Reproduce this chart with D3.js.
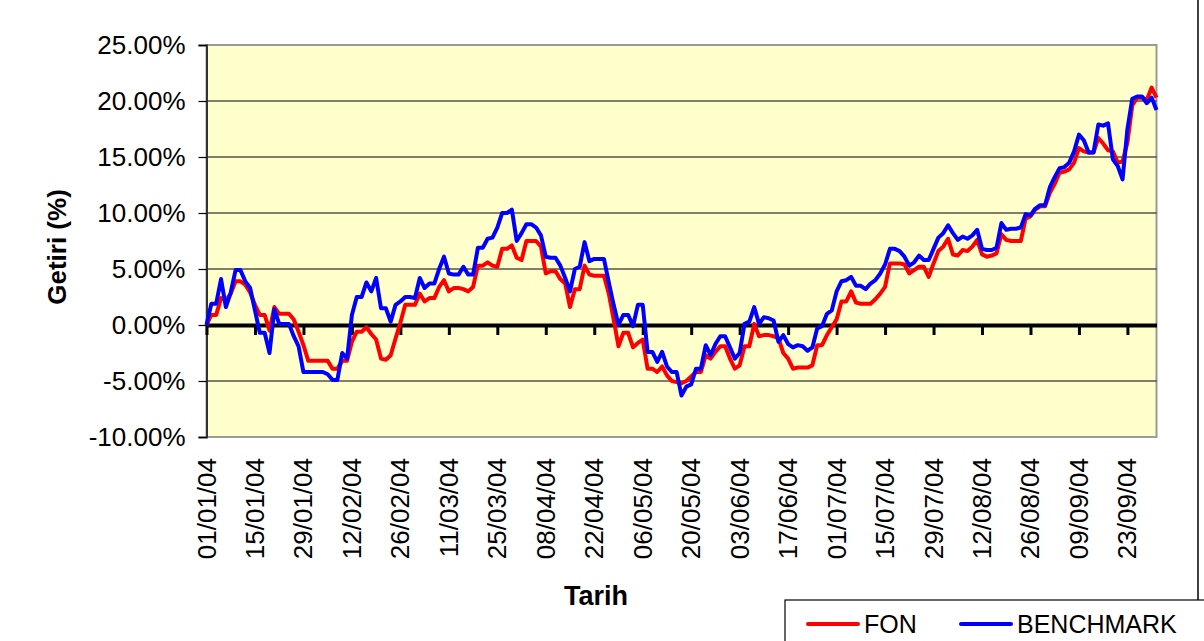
<!DOCTYPE html>
<html>
<head>
<meta charset="utf-8">
<script src="https://d3js.org/d3.v7.min.js"></script>
<style>
  body { margin: 0; background: #fff; }
  svg { font-family: Arial, "Liberation Sans", sans-serif; }
</style>
</head>
<body>
<div id="chart"></div>
<script>
// tick labels, one every 10 business days
var tickLabels = ['01/01/04','15/01/04','29/01/04','12/02/04','26/02/04','11/03/04','25/03/04',
    '08/04/04','22/04/04','06/05/04','20/05/04','03/06/04','17/06/04','01/07/04','15/07/04',
    '29/07/04','12/08/04','26/08/04','09/09/04','23/09/04'];

// FON returns (%)
var fon = [0,0.9,0.9,2.4,2.2,2.8,3.9,3.9,3.6,2.9,
    1.8,0.9,0.9,-0.5,1.6,1.0,1.0,1.0,0.5,-0.6,
    -1.8,-3.2,-3.2,-3.2,-3.2,-3.2,-3.9,-3.9,-3.2,-3.2,
    -1.5,-0.6,-0.6,-0.2,-0.8,-1.3,-3.0,-3.1,-2.7,-1.2,
    0.2,1.8,1.8,1.8,2.8,2.1,2.4,2.4,3.4,4.0,
    3.0,3.3,3.3,3.2,3.0,3.4,5.3,5.3,5.6,5.3,
    5.2,6.8,6.8,7.1,6.0,5.8,7.5,7.5,7.5,7.0,
    4.6,4.8,4.8,4.1,3.7,1.6,3.2,3.2,5.3,4.5,
    4.4,4.4,4.4,2.8,0.5,-1.9,-0.7,-0.7,-2.0,-1.6,
    -1.3,-3.9,-3.9,-4.2,-3.7,-4.5,-5.0,-5.1,-5.2,-5.0,
    -4.6,-4.2,-4.2,-2.7,-3.0,-2.4,-1.9,-1.9,-3.0,-3.9,
    -3.6,-1.9,-1.9,0.1,-1.0,-0.9,-0.9,-1.0,-1.2,-2.5,
    -3.0,-3.9,-3.8,-3.8,-3.8,-3.6,-1.8,-1.8,-0.9,-0.2,
    0.5,2.1,2.1,3.0,2.0,1.9,1.9,1.9,2.3,2.8,
    3.4,5.5,5.5,5.5,5.4,4.6,4.9,5.2,5.2,4.3,
    5.5,6.6,7.0,7.7,6.3,6.2,6.7,6.6,7.0,7.6,
    6.3,6.1,6.2,6.4,8.1,7.6,7.5,7.5,7.5,9.5,
    9.7,10.3,10.6,10.6,11.8,12.6,13.6,13.7,13.9,14.5,
    15.8,15.5,15.4,15.4,16.7,16.2,15.6,15.5,14.5,14.6,
    16.3,19.6,20.3,20.3,20.1,21.2,20.3];

// BENCHMARK returns (%)
var benchmark = [0,1.9,1.9,4.1,1.6,2.9,4.9,4.9,3.9,3.3,
    1.3,-0.7,-0.7,-2.5,1.4,0.1,0.1,0.1,-1.0,-1.9,
    -4.2,-4.2,-4.2,-4.2,-4.2,-4.4,-4.9,-4.9,-2.5,-3.0,
    0.9,2.5,2.5,3.8,3.0,4.2,1.5,1.5,0.3,1.8,
    2.1,2.5,2.5,2.4,4.2,3.3,3.7,3.7,5.0,6.1,
    4.6,4.5,4.5,5.2,4.5,4.5,6.9,6.9,7.7,7.8,
    8.7,10.0,10.0,10.3,7.5,8.2,9.0,9.0,8.7,8.0,
    6.1,6.0,6.0,5.3,4.2,3.0,5.0,5.2,7.4,5.7,
    5.9,5.9,5.9,3.8,1.8,0.0,0.9,0.9,-0.1,1.8,
    1.8,-2.4,-2.4,-3.3,-2.4,-3.7,-4.2,-4.2,-6.3,-5.5,
    -5.3,-3.9,-3.9,-1.8,-2.7,-1.7,-1.0,-1.0,-2.0,-3.0,
    -2.5,0.1,0.3,1.6,0.1,0.7,0.6,0.4,-1.5,-0.9,
    -1.7,-2.0,-1.8,-1.9,-2.3,-2.0,-0.3,-0.1,1.0,1.3,
    3.0,3.9,4.0,4.3,3.5,3.5,3.2,3.7,4.0,4.6,
    5.4,6.8,6.8,6.6,6.1,5.3,5.6,6.2,5.8,5.8,
    6.8,7.8,8.2,8.9,8.2,7.6,7.9,7.7,8.0,8.5,
    6.8,6.7,6.7,6.9,9.1,8.5,8.6,8.6,8.7,9.9,
    9.8,10.4,10.7,10.7,12.3,13.2,14.0,14.1,14.5,15.5,
    17.0,16.5,15.4,15.4,17.9,17.8,18.0,14.8,14.2,13.0,
    17.5,20.2,20.4,20.4,19.8,20.3,19.2];

var yTicks = [-10, -5, 0, 5, 10, 15, 20, 25];

var seriesNames = ['FON', 'BENCHMARK'];
var seriesColors = ['#ff0000', '#0000ff'];

var fullW = 1204, fullH = 641;
var margin = {left: 206.5, top: 45, right: 1204 - 1156.5, bottom: 641 - 437};
var width = fullW - margin.left - margin.right;
var height = fullH - margin.top - margin.bottom;

var svg = d3.select('#chart').append('svg')
    .attr('width', fullW)
    .attr('height', fullH);

var x = d3.scaleLinear().domain([0, fon.length - 1]).range([0, width]);
var y = d3.scaleLinear().domain([-10, 25]).range([height, 0]);

// right border of chart area
svg.append('line')
    .attr('x1', 1198).attr('x2', 1198).attr('y1', 0).attr('y2', fullH)
    .attr('stroke', '#000').attr('stroke-width', 1.5);

var g = svg.append('g').attr('transform', 'translate(' + margin.left + ',' + margin.top + ')');

// plot area
g.append('rect')
    .attr('width', width).attr('height', height)
    .attr('fill', '#ffffcc')
    .attr('stroke', '#9a9a9a').attr('stroke-width', 2);

// gridlines
g.selectAll('.grid').data(yTicks).enter().append('line')
    .attr('class', 'grid')
    .attr('x1', 0).attr('x2', width)
    .attr('y1', function(d) { return y(d); })
    .attr('y2', function(d) { return y(d); })
    .attr('stroke', '#000').attr('stroke-width', 1)
    .attr('display', function(d) { return (d === 25 || d === -10 || d === 0) ? 'none' : null; });

// y axis
var yAxis = d3.axisLeft(y).tickValues(yTicks).tickSize(8).tickPadding(13)
    .tickFormat(function(d) { return d.toFixed(2) + '%'; });
var yg = g.append('g').call(yAxis);
yg.select('.domain').attr('stroke', '#333').attr('stroke-width', 2);
yg.selectAll('.tick line').attr('stroke', '#000').attr('stroke-width', 1.2);
yg.selectAll('.tick text').attr('font-size', 26).attr('fill', '#000')
    .attr('font-family', 'Arial, "Liberation Sans", sans-serif');

// x axis sits on the zero line
var idx = d3.range(0, fon.length, 10);
var xAxis = d3.axisBottom(x).tickValues(idx).tickSize(10).tickSizeOuter(0)
    .tickFormat(function(d, i) { return ''; });
var xg = g.append('g').attr('transform', 'translate(0,' + y(0) + ')').call(xAxis);
xg.select('.domain').attr('stroke', '#000').attr('stroke-width', 4);
xg.selectAll('.tick line').attr('stroke', '#000').attr('stroke-width', 3);

// tick labels at the bottom of the plot
g.selectAll('.xlab').data(idx).enter().append('text')
    .attr('class', 'xlab')
    .attr('transform', function(d) { return 'translate(' + (x(d) + 9) + ',' + (height + 21) + ') rotate(-90)'; })
    .attr('text-anchor', 'end')
    .attr('font-size', 26)
    .text(function(d, i) { return tickLabels[i]; });

// series
var line = d3.line()
    .x(function(d, i) { return x(i); })
    .y(function(d) { return y(d); });

[fon, benchmark].forEach(function(s, k) {
    g.append('path')
        .attr('d', line(s))
        .attr('fill', 'none')
        .attr('stroke', seriesColors[k])
        .attr('stroke-width', 4)
        .attr('stroke-linejoin', 'round');
});

// axis titles
svg.append('text')
    .attr('transform', 'translate(66,' + (margin.top + height / 2 + 6) + ') rotate(-90)')
    .attr('text-anchor', 'middle')
    .attr('font-size', 26).attr('font-weight', 'bold')
    .text('Getiri (%)');

svg.append('text')
    .attr('x', 596).attr('y', 605)
    .attr('text-anchor', 'middle')
    .attr('font-size', 27).attr('font-weight', 'bold')
    .text('Tarih');

// legend
var lg = svg.append('g').attr('transform', 'translate(785,600)');
lg.append('rect').attr('width', 420).attr('height', 60)
    .attr('fill', '#fff').attr('stroke', '#000').attr('stroke-width', 1.2);
var legX = [23, 176];
seriesNames.forEach(function(n, k) {
    lg.append('line')
        .attr('x1', legX[k]).attr('x2', legX[k] + 50).attr('y1', 24).attr('y2', 24)
        .attr('stroke', seriesColors[k]).attr('stroke-width', 4).attr('stroke-linecap', 'round');
    lg.append('text')
        .attr('x', legX[k] + 56).attr('y', 33)
        .attr('font-size', 25)
        .text(n);
});
</script>
</body>
</html>
